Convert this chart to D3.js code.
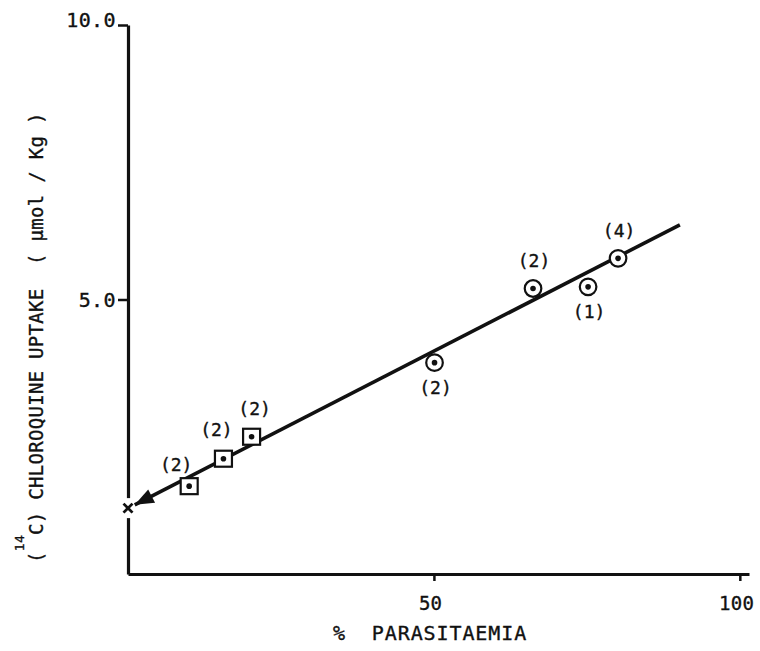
<!DOCTYPE html>
<html>
<head>
<meta charset="utf-8">
<script src="https://cdn.jsdelivr.net/npm/d3@7"></script>
<style>
  body { margin: 0; background: #fff; }
  svg text { font-family: "DejaVu Sans Mono", monospace; fill: #111; stroke: #111; stroke-width: 0.35px; }
</style>
</head>
<body>
<script>
(function() {

    const width = 760;
    const height = 651;

    // % parasitaemia vs chloroquine uptake (umol/Kg)
    const squareX = [10, 15.6, 20.2];
    const squareY = [1.6, 2.1, 2.5];
    const squareN = ["(2)", "(2)", "(2)"];

    const circleX = [50.1, 66.2, 75.2, 80.1];
    const circleY = [3.85, 5.2, 5.23, 5.75];
    const circleN = ["(2)", "(2)", "(1)", "(4)"];

    // extrapolated intercept (x) and fitted line ends
    const interceptX = [0];
    const interceptY = [1.2];
    const fitX = [1.1, 90.2];
    const fitY = [1.26, 6.36];

    const xTicks = [50, 100];
    const yTicks = [5, 10];

    // label placement: above / below the marker
    const squareSide = ["above", "above", "above"];
    const circleSide = ["below", "above", "below", "above"];

    let x = d3.scaleLinear().domain([0, 101.5]).range([128, 749]);
    let y = d3.scaleLinear().domain([0, 10]).range([574, 25]);

    let svg = d3.select("body").append("svg")
        .attr("width", width)
        .attr("height", height);

    // y axis
    let yAxis = svg.append("g")
        .attr("transform", "translate(" + x(0) + ",0)")
        .call(d3.axisLeft(y).tickValues(yTicks).tickSize(10).tickSizeOuter(0)
            .tickFormat(d3.format(".1f")));
    yAxis.select(".domain").attr("stroke", "#111").attr("stroke-width", 3.2);
    yAxis.selectAll(".tick line").attr("stroke", "#111").attr("stroke-width", 2.5);
    yAxis.selectAll(".tick text")
        .attr("x", -12)
        .attr("dy", function(d) { return d === 10 ? "0.05em" : "0.35em"; })
        .style("font-size", "20px")
        .style("letter-spacing", "0.4px")
        .attr("fill", "#111");

    // x axis
    let xAxis = svg.append("g")
        .attr("transform", "translate(0," + y(0) + ")")
        .call(d3.axisBottom(x).tickValues(xTicks).tickSize(7).tickSizeOuter(0));
    xAxis.select(".domain").attr("stroke", "#111").attr("stroke-width", 3.2);
    xAxis.selectAll(".tick line").attr("stroke", "#111").attr("stroke-width", 2.5);
    xAxis.selectAll(".tick text")
        .attr("y", 23)
        .attr("dy", "0.71em")
        .attr("dx", "-0.2em")
        .style("font-size", "19px")
        .style("letter-spacing", "0.3px")
        .attr("fill", "#111");

    // axis titles
    svg.append("text")
        .attr("x", 333)
        .attr("y", 640)
        .style("font-size", "20px")
        .style("letter-spacing", "0.9px")
        .style("white-space", "pre")
        .text("%  PARASITAEMIA");

    let yTitle = svg.append("text")
        .attr("transform", "translate(43,563) rotate(-90)")
        .style("font-size", "19px")
        .style("letter-spacing", "0.3px")
        .style("white-space", "pre");
    yTitle.append("tspan").text("(");
    yTitle.append("tspan").attr("dy", -19).style("font-size", "13px").text("14");
    yTitle.append("tspan").attr("dy", 19).text("C) CHLOROQUINE UPTAKE  ( \u00b5mol / Kg )");

    // intercept cross, breaking the axis
    let cross = svg.append("g")
        .attr("transform", "translate(" + x(interceptX[0]) + "," + y(interceptY[0]) + ")");
    cross.append("rect")
        .attr("x", -6).attr("y", -10).attr("width", 12).attr("height", 20)
        .attr("fill", "#fff");
    cross.append("path")
        .attr("d", "M-4.5,-4.5L4.5,4.5M-4.5,4.5L4.5,-4.5")
        .attr("stroke", "#111")
        .attr("stroke-width", 2.8);

    // fitted line with arrow pointing to the intercept
    let fit = fitX.map(function(v, i) { return [x(v), y(fitY[i])]; });
    svg.append("path")
        .attr("d", d3.line()(fit))
        .attr("stroke", "#111")
        .attr("stroke-width", 3.6)
        .attr("fill", "none");

    let dxp = fit[1][0] - fit[0][0], dyp = fit[1][1] - fit[0][1];
    let len = Math.sqrt(dxp * dxp + dyp * dyp);
    let ux = dxp / len, uy = dyp / len;
    let tip = fit[0];
    let headLen = 19, headW = 7.5;
    let base = [tip[0] + ux * headLen, tip[1] + uy * headLen];
    svg.append("path")
        .attr("d", "M" + tip[0] + "," + tip[1] +
            "L" + (base[0] - uy * headW) + "," + (base[1] + ux * headW) +
            "L" + (base[0] + uy * headW) + "," + (base[1] - ux * headW) + "Z")
        .attr("fill", "#111");

    // square markers
    let sq = svg.selectAll(".sq")
        .data(squareX.map(function(v, i) { return {x: v, y: squareY[i], n: squareN[i], side: squareSide[i], i: i}; }))
        .enter()
        .append("g")
        .attr("class", "sq")
        .attr("transform", function(d) { return "translate(" + x(d.x) + "," + y(d.y) + ")"; });
    sq.append("rect")
        .attr("x", -8.5).attr("y", -8)
        .attr("width", 17).attr("height", 16)
        .attr("fill", "#fff")
        .attr("stroke", "#111")
        .attr("stroke-width", 2.2);
    sq.append("circle").attr("r", 2.8).attr("fill", "#111");
    sq.append("text")
        .attr("x", function(d) { return [-13, -7, 3][d.i]; })
        .attr("y", function(d) { return d.side === "above" ? [-21, -29, -28][d.i] : 26; })
        .attr("dy", "0.35em")
        .attr("text-anchor", "middle")
        .style("font-size", "18px")
        .text(function(d) { return d.n; });

    // circle markers
    let ci = svg.selectAll(".ci")
        .data(circleX.map(function(v, i) { return {x: v, y: circleY[i], n: circleN[i], side: circleSide[i]}; }))
        .enter()
        .append("g")
        .attr("class", "ci")
        .attr("transform", function(d) { return "translate(" + x(d.x) + "," + y(d.y) + ")"; });
    ci.append("circle")
        .attr("r", 8.3)
        .attr("fill", "#fff")
        .attr("stroke", "#111")
        .attr("stroke-width", 2.2);
    ci.append("circle").attr("r", 2.8).attr("fill", "#111");
    ci.append("text")
        .attr("x", 1)
        .attr("y", function(d) { return d.side === "above" ? -28 : 25; })
        .attr("dy", "0.35em")
        .attr("text-anchor", "middle")
        .style("font-size", "18px")
        .text(function(d) { return d.n; });

})();
</script>
</body>
</html>
